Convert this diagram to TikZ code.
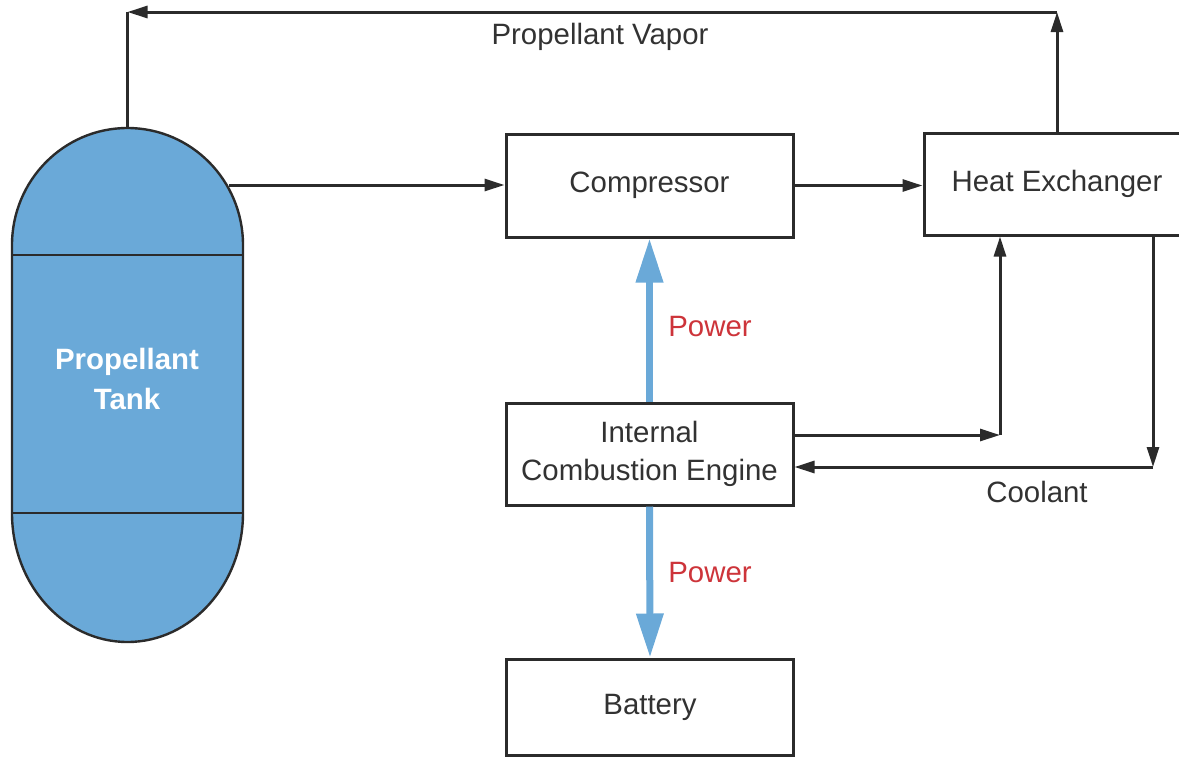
\documentclass[tikz,border=0pt]{standalone}
\usepackage{fontspec}
\setmainfont{Liberation Sans}
\usetikzlibrary{arrows.meta,calc}
\definecolor{tankblue}{RGB}{106,169,216}
\definecolor{linecol}{RGB}{43,43,43}
\definecolor{txtcol}{RGB}{50,50,50}
\definecolor{powred}{RGB}{205,52,58}
\begin{document}
\begin{tikzpicture}[x=0.5pt,y=-0.5pt,
  font=\fontsize{14.7}{19}\selectfont,
  every node/.style={text=txtcol},
  blockbox/.style={draw=linecol,line width=1.5pt,fill=white,inner sep=0pt,align=center,minimum width=143.5pt},
  flow/.style={draw=linecol,line width=1.5pt,-{Triangle[length=10pt,width=6pt]}},
  plain/.style={draw=linecol,line width=1.5pt},
  powarrow/.style={draw=tankblue,line width=3.5pt,-{Triangle[length=22pt,width=13pt]}},
  powlabel/.style={text=powred},
  lbl/.style={text=txtcol}]
\useasboundingbox (0,0) rectangle (1179,762);
\clip (0,0) rectangle (1179,762);
% tank
\path[fill=tankblue,draw=linecol,line width=1.2pt]
  (12,245) -- (12,513) arc[start angle=180,end angle=0,x radius=115.5,y radius=129]
  -- (243,245) arc[start angle=0,end angle=-180,x radius=115.5,y radius=117] -- cycle;
\draw[linecol,line width=1.2pt] (12,255) -- (243,255);
\draw[linecol,line width=1.2pt] (12,513) -- (243,513);
\node[text=white,font=\fontsize{14.7}{20}\selectfont\bfseries,align=center] (tank) at (127,379) {Propellant\\Tank};
\coordinate (tanktop) at (127.5,128);
\coordinate (tankport) at (229,185);
% blocks
\node[blockbox,minimum height=51.5pt] (comp) at (649.5,185.5) {Compressor};
\node[blockbox,minimum height=51pt,minimum width=133pt] (hx) at (1057,184) {Heat Exchanger};
\node[blockbox,minimum height=51pt] (ice) at (649.5,454) {Internal\\Combustion Engine};
\node[blockbox,minimum height=48pt] (bat) at (650,707) {Battery};
% vapor loop
\coordinate (tr) at (1057,12);
\coordinate (tl) at (127.5,12);
\draw[flow] (hx.north) -- (tr);
\draw[flow] (tr) -- (tl);
\draw[plain] (tl) -- (tanktop);
\node[lbl] (vap) at (600,37) {Propellant Vapor};
% main flow
\draw[flow] (tankport) -- (comp.west |- tankport);
\draw[flow] (comp.east) -- (hx.west |- comp.east);
% coolant loop
\coordinate (iceout) at (ice.east |- 0,435);
\coordinate (c1) at (1000,435);
\coordinate (c2) at (1153,467);
\coordinate (icein) at (ice.east |- 0,467);
\draw[flow] (iceout) -- (c1);
\draw[flow] (c1) -- (c1 |- hx.south);
\draw[flow] (c2 |- hx.south) -- (c2);
\draw[flow] (c2) -- (icein);
\node[lbl] (cool) at (1037,492) {Coolant};
% power
\draw[powarrow] (ice.north) -- (comp.south);
\node[powlabel] (p1) at (710,327) {Power};
\draw[powarrow] (ice.south) -- (bat.north);
\node[powlabel] (p2) at (710,573) {Power};
\end{tikzpicture}
\end{document}
